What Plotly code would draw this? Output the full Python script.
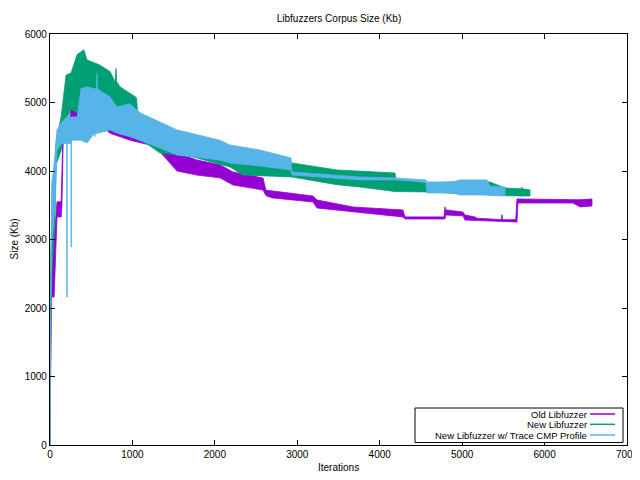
import plotly.graph_objects as go

# ---- data ----
old_x  = [0, 10, 20, 50, 85, 135, 145, 160, 195, 240, 290, 330, 340, 380, 580, 730, 970, 1213, 1334, 1541, 1783, 2062, 2220, 2584, 2620, 2705, 3190, 3239, 3675, 4282, 4306, 4780, 4791, 4800, 4816, 5010, 5034, 5155, 5180, 5337, 5475, 5483, 5491, 5650, 5665, 5677, 6344, 6430, 6575]
old_lo = [0, 1500, 2160, 2160, 3330, 3330, 3500, 4450, 4450, 4500, 4790, 4790, 4800, 4800, 4700, 4550, 4450, 4380, 4280, 4000, 3940, 3900, 3796, 3723, 3640, 3606, 3548, 3460, 3402, 3329, 3300, 3300, 3300, 3358, 3358, 3345, 3285, 3285, 3285, 3270, 3265, 3265, 3265, 3256, 3256, 3533, 3533, 3475, 3490]
old_hi = [0, 2500, 2950, 3000, 3550, 3550, 4060, 4700, 4700, 4800, 5080, 5080, 5450, 5450, 5475, 5000, 4700, 4500, 4350, 4260, 4160, 4090, 3986, 3898, 3720, 3708, 3635, 3577, 3475, 3431, 3330, 3330, 3475, 3431, 3431, 3400, 3358, 3330, 3310, 3300, 3290, 3360, 3290, 3290, 3592, 3592, 3580, 3580, 3592]

new_x  = [0, 10, 25, 60, 75, 135, 195, 255, 330, 410, 450, 600, 730, 790, 800, 810, 850, 1050, 1060, 1115, 1334, 1541, 1735, 2062, 2183, 2341, 2935, 3481, 3760, 4185, 4197, 4573, 4888, 5337, 5520, 5720, 5725, 5730, 5823]
new_lo = [0, 1800, 2560, 3300, 4100, 4300, 4750, 4900, 4850, 4900, 5000, 4850, 4750, 4700, 4700, 4700, 4650, 4550, 4550, 4450, 4263, 4234, 4205, 4100, 4059, 3942, 3913, 3800, 3767, 3700, 3700, 3694, 3680, 3650, 3640, 3635, 3635, 3635, 3635]
new_hi = [0, 2800, 3500, 4300, 4450, 4790, 5400, 5430, 5700, 5770, 5620, 5550, 5450, 5300, 5500, 5300, 5230, 5070, 4890, 4790, 4700, 4526, 4400, 4350, 4300, 4160, 4117, 4015, 4000, 3971, 3885, 3825, 3840, 3840, 3752, 3740, 3767, 3740, 3723]

trc_x  = [0, 10, 20, 60, 85, 135, 195, 203, 203, 209, 209, 250, 254, 254, 260, 260, 290, 330, 375, 450, 540, 545, 550, 565, 570, 575, 730, 810, 970, 1092, 1334, 1541, 2062, 2183, 2547, 2923, 2935, 3760, 4185, 4560, 4573, 4888, 4973, 5300, 5337, 5520]
trc_lo = [0, 2000, 2900, 3500, 4300, 4400, 4400, 4400, 2160, 2160, 4400, 4400, 4400, 2890, 2890, 4450, 4450, 4450, 4450, 4410, 4550, 4500, 4550, 4550, 4550, 4550, 4600, 4555, 4500, 4450, 4336, 4234, 4160, 4117, 4073, 4015, 3942, 3870, 3870, 3840, 3680, 3680, 3650, 3650, 3650, 3635]
trc_hi = [0, 3000, 3800, 4200, 4600, 4700, 4790, 4790, 4790, 4790, 4790, 4790, 4790, 4790, 4790, 4790, 4790, 4790, 5200, 5230, 5200, 5200, 5200, 5200, 5430, 5200, 5080, 4935, 4980, 4850, 4715, 4600, 4450, 4380, 4307, 4190, 3986, 3913, 3898, 3870, 3840, 3840, 3870, 3870, 3780, 3767]

series_names = ["Old Libfuzzer", "New Libfuzzer", "New Libfuzzer w/ Trace CMP Profile"]
series_colors = ["#9400D3", "#009E73", "#56B4E9"]

x_ticks = [0, 1000, 2000, 3000, 4000, 5000, 6000, 7000]
y_ticks = [0, 1000, 2000, 3000, 4000, 5000, 6000]

FONT = "Liberation Sans, Arial, sans-serif"

fig = go.Figure()
for xs, lo, hi, name, col in [(old_x, old_lo, old_hi, series_names[0], series_colors[0]),
                              (new_x, new_lo, new_hi, series_names[1], series_colors[1]),
                              (trc_x, trc_lo, trc_hi, series_names[2], series_colors[2])]:
    fig.add_trace(go.Scatter(
        x=list(xs) + list(xs)[::-1],
        y=list(hi) + list(lo)[::-1],
        mode="lines", fill="toself", fillcolor=col,
        line=dict(color=col, width=0.8),
        name=name, showlegend=False, hoverinfo="skip"))

axis_common = dict(showgrid=False, zeroline=False, showline=True, linecolor="black",
                   linewidth=1.2, mirror="ticks", ticks="inside", ticklen=5,
                   tickcolor="black", tickwidth=1, automargin=False,
                   ticklabeloverflow="allow",
                   tickfont=dict(family=FONT, size=10, color="black"))

# page body has an 8px margin: figure is sized/offset so the plot lands where the reference has it
W, H = 640, 464
fig.update_layout(
    width=W, height=H,
    margin=dict(l=42, r=21, t=26, b=27),
    paper_bgcolor="white", plot_bgcolor="white",
    title=dict(text="Libfuzzers Corpus Size (Kb)", x=331 / W, xanchor="center",
               y=1 - 10 / H, yanchor="middle", yref="container",
               font=dict(family=FONT, size=10, color="black")),
    xaxis=dict(range=[0, 7000], tickvals=x_ticks, ticktext=[str(v) for v in x_ticks],
               **axis_common),
    yaxis=dict(range=[0, 6000], tickvals=y_ticks, ticktext=[str(v) for v in y_ticks],
               **axis_common),
    showlegend=False,
)

# axis titles
fig.add_annotation(text="Iterations", xref="paper", yref="paper", x=0.5, y=-22 / 411,
                   xanchor="center", yanchor="middle", showarrow=False,
                   borderpad=0, borderwidth=0,
                   font=dict(family=FONT, size=10, color="black"))
fig.add_annotation(text="Size (Kb)", xref="paper", yref="paper", x=-36 / 577, y=0.5,
                   xanchor="center", yanchor="middle", showarrow=False, textangle=-90,
                   font=dict(family=FONT, size=10, color="black"))

# manual gnuplot-style legend (text right, sample line on the right)
fig.add_shape(type="rect", xref="paper", yref="paper", x0=0.6326, x1=0.9931, y0=0.006, y1=0.090,
              line=dict(color="black", width=1), fillcolor="white", layer="above")
legend_y = [0.0754, 0.0503, 0.0243]
for name, col, yy in zip(series_names, series_colors, legend_y):
    fig.add_annotation(text=name, xref="paper", yref="paper", x=0.9307, y=yy,
                       xanchor="right", yanchor="middle", showarrow=False,
                       borderpad=0, borderwidth=0,
                       font=dict(family=FONT, size=9.5, color="black"))
    fig.add_shape(type="line", xref="paper", yref="paper", x0=0.9359, x1=0.9792, y0=yy, y1=yy,
                  line=dict(color=col, width=1.5), layer="above")

fig.write_html("out.html")
